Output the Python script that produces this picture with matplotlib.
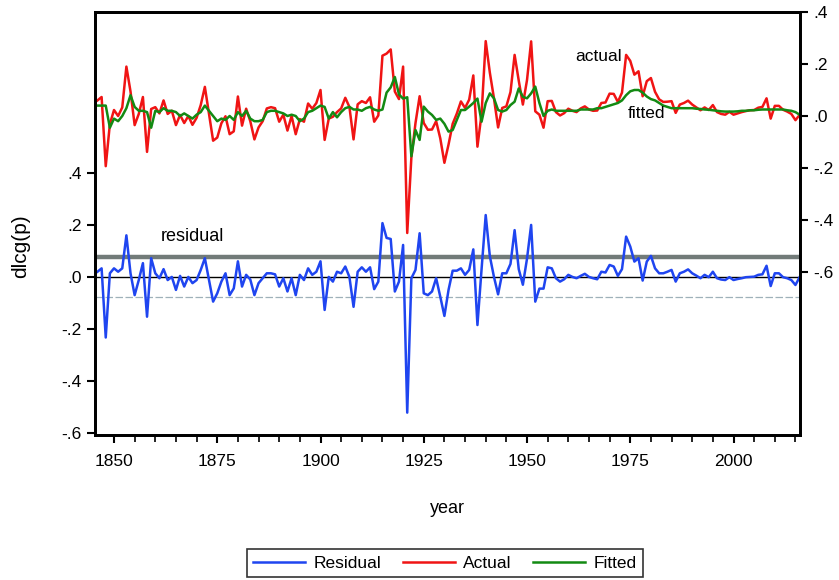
import numpy as np
import matplotlib.pyplot as plt
from matplotlib.lines import Line2D
from matplotlib.ticker import MultipleLocator

plt.rcParams['font.family'] = ['Liberation Sans', 'DejaVu Sans']

years = np.arange(1846, 2017)

# residual of dlcg(p) (left axis)
residual = [
    0.020, 0.033, -0.233, 0.014, 0.033, 0.020, 0.033, 0.160, 0.014, -0.070,   # 1846-1855
    -0.012, 0.053, -0.153, 0.072, 0.014, -0.005, 0.030, -0.012, 0.000, -0.050,  # 1856-1865
    0.004, -0.037, 0.000, -0.024, -0.012, 0.027, 0.072, -0.012, -0.095, -0.063,  # 1866-1875
    -0.018, 0.014, -0.070, -0.044, 0.060, -0.037, 0.008, -0.010, -0.070, -0.024,  # 1876-1885
    -0.005, 0.014, 0.014, 0.010, -0.037, -0.005, -0.056, -0.005, -0.070, 0.008,  # 1886-1895
    -0.012, 0.033, 0.008, 0.020, 0.060, -0.127, 0.000, -0.018, 0.020, 0.014,    # 1896-1905
    0.040, 0.000, -0.115, 0.020, 0.037, 0.020, 0.037, -0.047, -0.018, 0.207,    # 1906-1915
    0.150, 0.146, -0.056, -0.018, 0.123, -0.522, -0.005, 0.027, 0.168, -0.063,  # 1916-1925
    -0.070, -0.056, -0.005, -0.076, -0.150, -0.050, 0.024, 0.024, 0.033, 0.008,  # 1926-1935
    0.027, 0.106, -0.185, 0.030, 0.238, 0.080, 0.000, -0.067, 0.014, 0.014,    # 1936-1945
    0.050, 0.180, 0.030, -0.030, 0.070, 0.200, -0.095, -0.045, -0.045, 0.037,   # 1946-1955
    0.033, -0.005, -0.018, -0.009, 0.008, 0.000, -0.005, 0.004, 0.012, 0.000,   # 1956-1965
    -0.005, -0.009, 0.020, 0.017, 0.046, 0.040, 0.004, 0.030, 0.155, 0.117,     # 1966-1975
    0.059, 0.072, -0.014, 0.059, 0.081, 0.033, 0.014, 0.014, 0.020, 0.027,      # 1976-1985
    -0.018, 0.014, 0.020, 0.029, 0.014, 0.005, -0.005, 0.008, -0.001, 0.020,    # 1986-1995
    -0.005, -0.010, -0.012, -0.001, -0.012, -0.008, -0.005, -0.001, 0.000, 0.001,  # 1996-2005
    0.008, 0.010, 0.043, -0.035, 0.014, 0.014, -0.001, -0.005, -0.012, -0.031,  # 2006-2015
    -0.001,                                                                      # 2016
]

# fitted values (right axis)
fitted = [
    0.040, 0.040, 0.040, -0.045, -0.010, -0.020, 0.000, 0.030, 0.080, 0.035,    # 1846-1855
    0.020, 0.020, 0.015, -0.045, 0.020, 0.015, 0.030, 0.020, 0.020, 0.015,      # 1856-1865
    0.000, 0.010, 0.000, -0.010, 0.005, 0.015, 0.040, 0.020, 0.000, -0.020,     # 1866-1875
    -0.010, -0.015, 0.000, -0.015, 0.015, 0.000, 0.020, -0.010, -0.020, -0.020,  # 1876-1885
    -0.015, 0.015, 0.020, 0.020, 0.015, 0.010, 0.000, 0.005, 0.000, -0.020,     # 1886-1895
    -0.010, 0.015, 0.020, 0.030, 0.040, 0.035, -0.010, 0.015, -0.005, 0.015,    # 1896-1905
    0.030, 0.035, 0.025, 0.025, 0.020, 0.030, 0.035, 0.025, 0.020, 0.025,       # 1906-1915
    0.090, 0.110, 0.150, 0.083, 0.067, 0.072, -0.155, -0.054, -0.092, 0.036,    # 1916-1925
    0.017, 0.004, -0.015, -0.010, -0.030, -0.060, -0.054, -0.015, 0.023, 0.023,  # 1926-1935
    0.036, 0.050, 0.067, -0.022, 0.050, 0.087, 0.068, 0.023, 0.017, 0.023,      # 1936-1945
    0.042, 0.055, 0.106, 0.074, 0.068, 0.087, 0.113, 0.050, 0.000, 0.020,       # 1946-1955
    0.025, 0.020, 0.020, 0.020, 0.020, 0.020, 0.020, 0.025, 0.025, 0.025,       # 1956-1965
    0.025, 0.030, 0.030, 0.035, 0.040, 0.045, 0.050, 0.060, 0.080, 0.095,       # 1966-1975
    0.100, 0.100, 0.090, 0.075, 0.065, 0.060, 0.050, 0.040, 0.035, 0.030,       # 1976-1985
    0.030, 0.030, 0.030, 0.030, 0.030, 0.028, 0.027, 0.025, 0.024, 0.022,       # 1986-1995
    0.020, 0.018, 0.017, 0.017, 0.017, 0.018, 0.020, 0.020, 0.022, 0.022,       # 1996-2005
    0.024, 0.025, 0.025, 0.025, 0.025, 0.025, 0.025, 0.022, 0.020, 0.015,       # 2006-2015
    0.005,                                                                       # 2016
]

actual = np.array(fitted) + np.array(residual)
se = 0.078

left_ticks = [-0.6, -0.4, -0.2, 0.0, 0.2, 0.4]
tick_labels = ['-.6', '-.4', '-.2', '.0', '.2', '.4']

fig = plt.figure(figsize=(8.39, 5.8), dpi=100)
ax = fig.add_axes([95 / 839, 145 / 580, 705 / 839, 423 / 580])
ax2 = ax.twinx()

# residual panel on the left axis
ax.axhline(se, color='#727b79', lw=3.2, zorder=1)
ax.axhline(-se, color='#9fb1b9', lw=0.9, ls=(0, (6, 2)), zorder=1)
ax.axhline(0, color='black', lw=1.0, zorder=1)
ax.plot(years, residual, color='#1f45f0', lw=1.8, zorder=2)

# actual / fitted on the right axis
ax2.plot(years, actual, color='#f01414', lw=1.8)
ax2.plot(years, fitted, color='#138a13', lw=1.8)

ax.set_xlim(1845.4, 2016.1)
ax.set_ylim(-0.608, 1.019)
ax2.set_ylim(-1.227, 0.4)

ax.set_yticks(left_ticks)
ax.set_yticklabels(tick_labels)
ax2.set_yticks(left_ticks)
ax2.set_yticklabels(tick_labels)
ax.xaxis.set_major_locator(MultipleLocator(25))
ax.xaxis.set_minor_locator(MultipleLocator(5))

for a in (ax, ax2):
    for s in a.spines.values():
        s.set_linewidth(2.0)
    a.tick_params(axis='both', which='major', direction='out', length=6, width=1.5,
                  labelsize=12.5)
    a.tick_params(axis='x', which='minor', direction='out', length=5, width=1.2)
ax.tick_params(axis='x', which='major', pad=8)

ax.set_xlabel('year', fontsize=13, labelpad=22)
ax.set_ylabel('dlcg(p)', fontsize=15)
ax.yaxis.set_label_coords(-0.092, 0.447)

ax2.text(1961.8, 0.227, 'actual', fontsize=12.5, va='center', ha='left')
ax2.text(1974.3, 0.011, 'fitted', fontsize=12.5, va='center', ha='left')
ax.text(1861.3, 0.155, 'residual', fontsize=13, va='center', ha='left')

handles = [Line2D([], [], color='#1f45f0', lw=1.8),
           Line2D([], [], color='#f01414', lw=1.8),
           Line2D([], [], color='#138a13', lw=1.8)]
leg = fig.legend(handles, ['Residual', 'Actual', 'Fitted'], ncol=3,
                 loc='center', bbox_to_anchor=(445 / 839, 1 - 563 / 580),
                 frameon=True, fancybox=False, edgecolor='black', fontsize=12.5,
                 handlelength=3.0, columnspacing=1.2, handletextpad=0.5,
                 borderpad=0.35)
leg.get_frame().set_linewidth(1.2)

fig.savefig('out.png', dpi=100)
